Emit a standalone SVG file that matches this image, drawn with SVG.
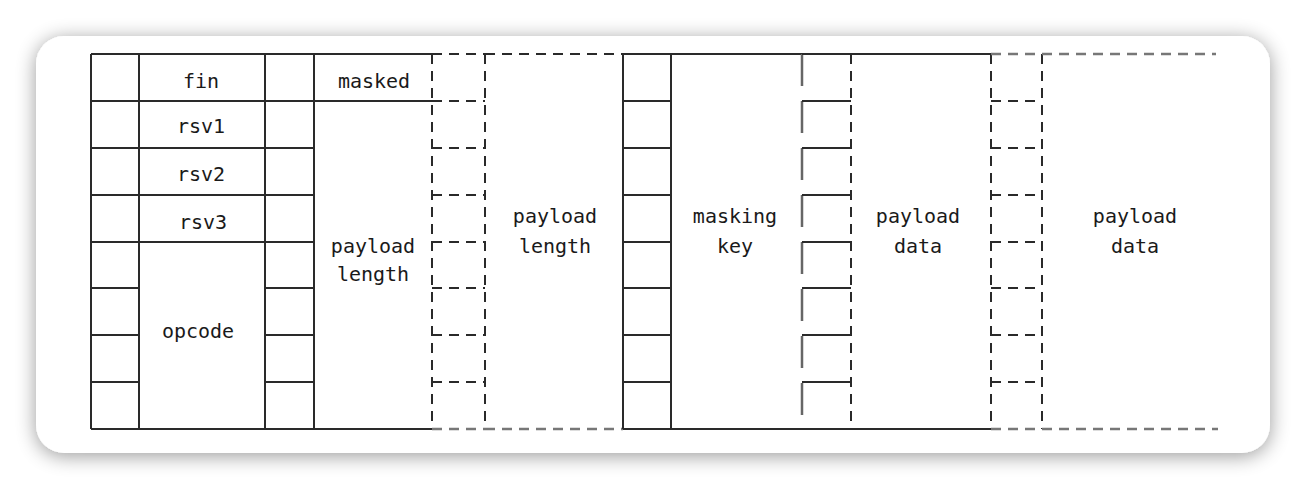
<svg xmlns="http://www.w3.org/2000/svg" width="1306" height="490" viewBox="0 0 1306 490">
  <defs>
    <filter id="shadow" x="-10%" y="-20%" width="120%" height="140%">
      <feGaussianBlur in="SourceAlpha" stdDeviation="10"/>
      <feOffset dx="0" dy="3" result="b"/>
      <feComponentTransfer><feFuncA type="linear" slope="0.4"/></feComponentTransfer>
      <feMerge><feMergeNode/><feMergeNode in="SourceGraphic"/></feMerge>
    </filter>
    <style>
      .s { stroke: #2a2a2a; stroke-width: 2; fill: none; }
      .d { stroke: #2a2a2a; stroke-width: 2; fill: none; stroke-dasharray: 10 7; }
      .dg { stroke: #777; stroke-width: 2.5; fill: none; stroke-dasharray: 10 7; }
      .dl { stroke: #666; stroke-width: 2.5; fill: none; stroke-dasharray: 32 15; }
      .t { font-family: "DejaVu Sans Mono", "Liberation Mono", monospace; font-size: 20px; fill: #1a1a1a; text-anchor: middle; }
    </style>
  </defs>
  <rect width="1306" height="490" fill="#ffffff"/>
  <rect x="36" y="36" width="1234" height="417" rx="28" ry="28" fill="#ffffff" filter="url(#shadow)"/>

  <!-- bit column 1 -->
  <g id="bits-a">
    <path class="s" d="M91 54V429 M139 54V429 M91 54H139 M91 429H139 M91 101H139 M91 148H139 M91 195H139 M91 242H139 M91 288H139 M91 335H139 M91 382H139"/>
  </g>
  <g id="fin"><path class="s" d="M139 54H265 M139 101H265"/><text class="t" x="201" y="88">fin</text></g>
  <g id="rsv1"><path class="s" d="M139 148H265"/><text class="t" x="201" y="133">rsv1</text></g>
  <g id="rsv2"><path class="s" d="M139 195H265"/><text class="t" x="201" y="181">rsv2</text></g>
  <g id="rsv3"><path class="s" d="M139 242H265"/><text class="t" x="203" y="229">rsv3</text></g>
  <g id="opcode"><path class="s" d="M139 429H265"/><text class="t" x="198" y="338">opcode</text></g>

  <!-- bit column 3 -->
  <g id="bits-b">
    <path class="s" d="M265 54V429 M314 54V429 M265 54H314 M265 429H314 M265 101H314 M265 148H314 M265 195H314 M265 242H314 M265 288H314 M265 335H314 M265 382H314"/>
  </g>
  <g id="masked"><path class="s" d="M314 54H432 M314 101H432"/><text class="t" x="374" y="88">masked</text></g>
  <g id="payload-length"><path class="s" d="M314 429H432"/><text class="t" x="373" y="253">payload</text><text class="t" x="373" y="281">length</text></g>

  <!-- dashed bit column 5 -->
  <g id="bits-c">
    <path class="d" d="M432 54V429 M485 54V429 M432 54H485 M432 101H485 M432 148H485 M432 195H485 M432 242H485 M432 288H485 M432 335H485 M432 382H485"/>
    <path class="dg" d="M432 429H485"/>
  </g>
  <g id="payload-length-ext">
    <path class="d" d="M485 54H623"/>
    <path class="dg" d="M485 429H623"/>
    <text class="t" x="555" y="223">payload</text><text class="t" x="555" y="253">length</text>
  </g>

  <!-- bit column 7 -->
  <g id="bits-d">
    <path class="s" d="M623 54V429 M671 54V429 M623 54H671 M623 429H671 M623 101H671 M623 148H671 M623 195H671 M623 242H671 M623 288H671 M623 335H671 M623 382H671"/>
  </g>
  <g id="masking-key">
    <path class="s" d="M671 54H802 M671 429H802"/>
    <text class="t" x="735" y="223">masking</text><text class="t" x="735" y="253">key</text>
  </g>

  <!-- bit column 9 -->
  <g id="bits-e">
    <path class="dl" d="M802 54V429"/>
    <path class="d" d="M851 54V429"/>
    <path class="s" d="M802 54H851 M802 429H851 M802 101H851 M802 148H851 M802 195H851 M802 242H851 M802 288H851 M802 335H851 M802 382H851"/>
  </g>
  <g id="payload-data">
    <path class="s" d="M851 54H991 M851 429H991"/>
    <text class="t" x="918" y="223">payload</text><text class="t" x="918" y="253">data</text>
  </g>

  <!-- dashed bit column 11 -->
  <g id="bits-f">
    <path class="d" d="M991 54V429 M1042 54V429 M991 101H1042 M991 148H1042 M991 195H1042 M991 242H1042 M991 288H1042 M991 335H1042 M991 382H1042"/>
    <path class="dg" d="M991 54H1042 M991 429H1042"/>
  </g>
  <g id="payload-data-ext">
    <path class="dg" d="M1042 54H1216 M1042 429H1218"/>
    <text class="t" x="1135" y="223">payload</text><text class="t" x="1135" y="253">data</text>
  </g>
</svg>
